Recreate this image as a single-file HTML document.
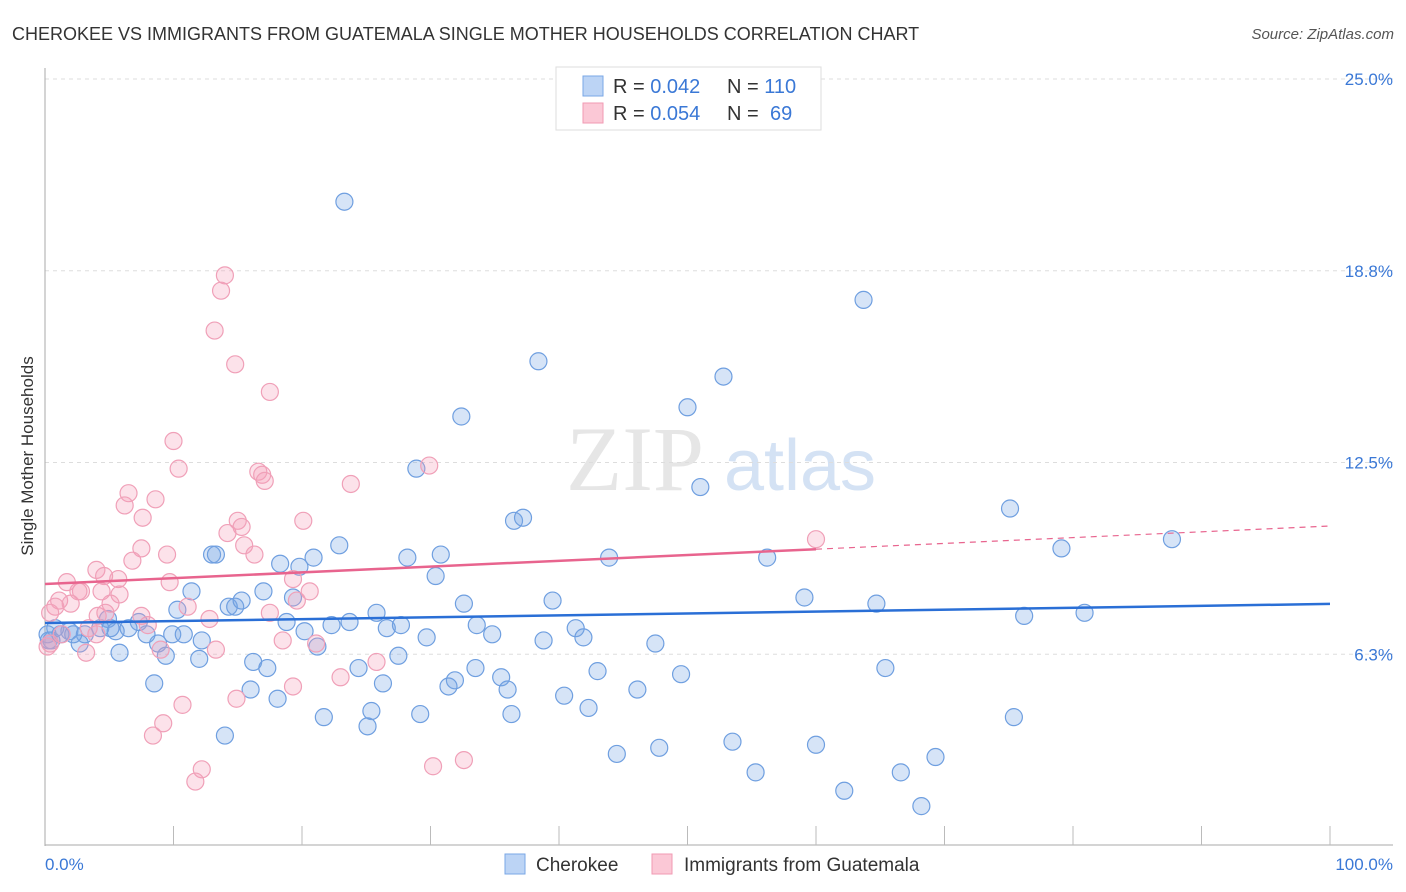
<!DOCTYPE html>
<html><head><meta charset="utf-8">
<style>
body{margin:0;background:#fff;width:1406px;height:892px;overflow:hidden;font-family:"Liberation Sans",sans-serif}
svg{display:block}
</style></head>
<body>
<svg id="chart" width="1406" height="892">
<text x="12" y="40" font-size="18" fill="#333">CHEROKEE VS IMMIGRANTS FROM GUATEMALA SINGLE MOTHER HOUSEHOLDS CORRELATION CHART</text>
<text x="1394" y="39" font-size="15" fill="#555" font-style="italic" text-anchor="end">Source: ZipAtlas.com</text>
<text x="33" y="456" font-size="17" fill="#333" text-anchor="middle" transform="rotate(-90 33 456)">Single Mother Households</text>
<g><text x="635" y="490" font-size="92" fill="#e6e6e6" font-family="Liberation Serif,serif" text-anchor="middle">ZIP</text><text x="800" y="490" font-size="72" fill="#d4e2f4" text-anchor="middle">atlas</text></g>
<g id="grid"></g>
<g id="axes"></g>
<g id="pts"></g>
<g id="trends"></g>
<g>
<rect x="556" y="67" width="265" height="63" fill="#fff" stroke="#ddd"/>
<rect x="583" y="76" width="20" height="20" fill="#bcd4f5" stroke="#7aa7e6"/>
<rect x="583" y="103" width="20" height="20" fill="#fbc8d6" stroke="#f09ab3"/>
<text x="613" y="93" font-size="20" fill="#333">R = <tspan fill="#3a78d6">0.042</tspan><tspan x="727">N = </tspan><tspan fill="#3a78d6">110</tspan></text>
<text x="613" y="120" font-size="20" fill="#333">R = <tspan fill="#3a78d6">0.054</tspan><tspan x="727">N = </tspan><tspan fill="#3a78d6" x="770">69</tspan></text>
</g>
<g>
<rect x="505" y="854" width="20" height="20" fill="#bcd4f5" stroke="#7aa7e6"/>
<text x="536" y="871" font-size="19" fill="#333">Cherokee</text>
<rect x="652" y="854" width="20" height="20" fill="#fbc8d6" stroke="#f09ab3"/>
<text x="684" y="871" font-size="19" fill="#333">Immigrants from Guatemala</text>
</g>
</svg>
<script>
const yTicks=[6.25,12.5,18.75,25];
const yTickLabels=["6.3%","12.5%","18.8%","25.0%"];
const xTickCount=10;
const blueX=[23.3,63.7,38.4,52.8,50.0,32.4,28.9,51.0,36.5,37.2,75.1,79.1,87.7,22.9,13.0,13.3,28.2,30.8,43.9,56.2,18.3,19.8,20.9,30.4,11.4,17.0,19.3,59.1,64.7,39.5,32.6,14.3,14.8,15.3,10.3,25.8,76.2,80.9,23.7,22.3,26.6,27.7,33.6,41.3,41.9,34.8,29.7,38.8,47.5,20.2,18.8,7.3,6.5,4.9,4.3,1.9,1.2,0.5,3.1,5.5,7.9,9.9,10.8,12.2,8.8,9.4,5.8,12.0,16.2,17.3,21.2,27.5,24.4,33.5,35.5,43.0,49.5,65.4,8.5,26.3,31.9,31.4,36.0,46.1,16.0,18.1,40.4,42.3,25.4,29.2,36.3,21.7,25.1,75.4,14.0,47.8,53.5,60.0,44.5,55.3,66.6,69.3,62.2,68.2,2.7,0.8,2.2,5.1,0.3,0.2];
const blueY=[21.0,17.8,15.8,15.3,14.3,14.0,12.3,11.7,10.6,10.7,11.0,9.7,10.0,9.8,9.5,9.5,9.4,9.5,9.4,9.4,9.2,9.1,9.4,8.8,8.3,8.3,8.1,8.1,7.9,8.0,7.9,7.8,7.8,8.0,7.7,7.6,7.5,7.6,7.3,7.2,7.1,7.2,7.2,7.1,6.8,6.9,6.8,6.7,6.6,7.0,7.3,7.3,7.1,7.4,7.1,7.0,6.9,6.7,6.9,7.0,6.9,6.9,6.9,6.7,6.6,6.2,6.3,6.1,6.0,5.8,6.5,6.2,5.8,5.8,5.5,5.7,5.6,5.8,5.3,5.3,5.4,5.2,5.1,5.1,5.1,4.8,4.9,4.5,4.4,4.3,4.3,4.2,3.9,4.2,3.6,3.2,3.4,3.3,3.0,2.4,2.4,2.9,1.8,1.3,6.6,7.1,6.9,7.1,6.7,6.9];
const pinkX=[14.0,13.7,13.2,14.8,17.5,10.0,10.4,29.9,16.6,16.9,17.1,23.8,6.5,8.6,6.2,7.6,20.1,15.0,15.3,14.2,60.0,15.5,7.5,9.5,16.3,6.8,4.0,1.7,5.7,4.6,9.7,19.3,2.8,2.6,5.8,20.6,4.4,1.1,5.1,19.6,2.0,0.8,0.4,4.1,4.7,7.5,11.1,12.8,17.5,3.4,1.3,4.0,8.0,18.5,21.1,13.3,9.0,3.2,0.2,25.8,23.0,19.3,14.9,10.7,9.2,8.4,30.2,32.6,12.2,11.7,0.4];
const pinkY=[18.6,18.1,16.8,15.7,14.8,13.2,12.3,12.4,12.2,12.1,11.9,11.8,11.5,11.3,11.1,10.7,10.6,10.6,10.4,10.2,10.0,9.8,9.7,9.5,9.5,9.3,9.0,8.6,8.7,8.8,8.6,8.7,8.3,8.3,8.2,8.3,8.3,8.0,7.9,8.0,7.9,7.8,7.6,7.5,7.6,7.5,7.8,7.4,7.6,7.1,6.9,6.9,7.2,6.7,6.6,6.4,6.4,6.3,6.5,6.0,5.5,5.2,4.8,4.6,4.0,3.6,2.6,2.8,2.5,2.1,6.6];
const blueTrend=[7.27,7.89];
const pinkTrend=[8.54,10.43];
const pinkSolidEnd=60;

const X0=45,X1=1330,YB=846,YT=79;
const sx=v=>X0+(X1-X0)*v/100;
const sy=v=>YB-(YB-YT)*v/25;
const NS='http://www.w3.org/2000/svg';
function mk(tag,parent,attrs){const e=document.createElementNS(NS,tag);for(const k in attrs)e.setAttribute(k,attrs[k]);parent.appendChild(e);return e;}
const grid=document.getElementById('grid'),axes=document.getElementById('axes'),pts=document.getElementById('pts'),tr=document.getElementById('trends');
yTicks.forEach((t,i)=>{
  const l=mk('line',grid,{x1:X0,x2:1393,y1:sy(t),y2:sy(t),stroke:'#ddd','stroke-dasharray':'4,4'});
  
  
  const tx=mk('text',axes,{x:1393,y:sy(t)+6,'font-size':17,fill:'#3a78d6','text-anchor':'end'});
  tx.textContent=yTickLabels[i];
  
  
});
const ya=mk('line',axes,{x1:X0,x2:X0,y1:68,y2:846,stroke:'#aaa'});


const xa=mk('line',axes,{x1:X0,x2:1393,y1:845,y2:845,stroke:'#aaa'});


for(let i=1;i<=xTickCount;i++){
  const t=mk('line',axes,{x1:sx(i*100/xTickCount),x2:sx(i*100/xTickCount),y1:826,y2:845,stroke:'#bbb'});
  
  
}
const xl0=mk('text',axes,{x:45,y:870,'font-size':17,fill:'#3a78d6'});xl0.textContent='0.0%';


const xl1=mk('text',axes,{x:1393,y:870,'font-size':17,fill:'#3a78d6','text-anchor':'end'});xl1.textContent='100.0%';


blueX.forEach((x,i)=>{
  const c=mk('circle',pts,{cx:sx(x),cy:sy(blueY[i]),r:8.5,fill:'rgba(120,165,230,0.3)',stroke:'#6f9fe0','stroke-width':1.2});
  
  
});
pinkX.forEach((x,i)=>{
  const c=mk('circle',pts,{cx:sx(x),cy:sy(pinkY[i]),r:8.5,fill:'rgba(245,160,185,0.3)',stroke:'#f0a0b8','stroke-width':1.2});
  
  
});
const bt=mk('line',tr,{x1:sx(0),y1:sy(blueTrend[0]),x2:sx(100),y2:sy(blueTrend[1]),stroke:'#2a6fd6','stroke-width':2.5});


const pm=pinkTrend[0]+(pinkTrend[1]-pinkTrend[0])*pinkSolidEnd/100;
const pt=mk('line',tr,{x1:sx(0),y1:sy(pinkTrend[0]),x2:sx(pinkSolidEnd),y2:sy(pm),stroke:'#e8648e','stroke-width':2.5});


const pd=mk('line',tr,{x1:sx(pinkSolidEnd),y1:sy(pm),x2:sx(100),y2:sy(pinkTrend[1]),stroke:'#e8648e','stroke-width':1.2,'stroke-dasharray':'6,5'});


</script>
</body></html>
